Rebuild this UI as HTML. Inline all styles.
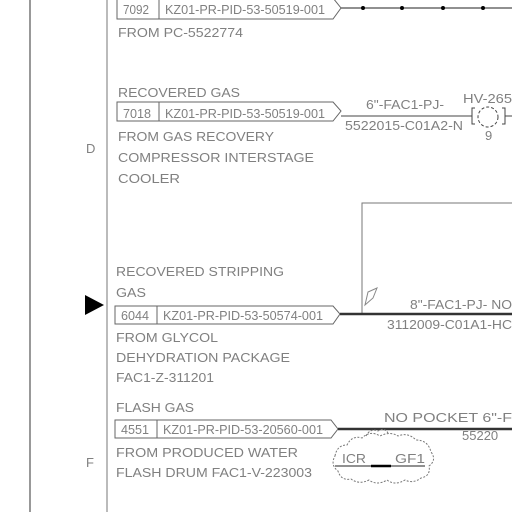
<!DOCTYPE html><html><head><style>body{margin:0;background:#fff}svg{display:block}text{font-family:"Liberation Sans",sans-serif;fill:#808080;font-size:13px}</style></head><body>
<svg width="512" height="512" viewBox="0 0 512 512">
<line x1="30" y1="0" x2="30" y2="512" stroke="#555" stroke-width="1.2"/>
<line x1="107" y1="0" x2="107" y2="512" stroke="#bbb" stroke-width="2"/>
<text x="86" y="153" font-size="13">D</text>
<text x="86" y="467" font-size="13">F</text>
<polygon points="85,295 104,305 85,315" fill="#000"/>
<g fill="none" stroke="#666" stroke-width="1">
<polygon points="117,-2 333,-2 341,8 333,19 117,19"/><line x1="159" y1="-2" x2="159" y2="19"/>
<polygon points="117,102 333,102 341,111 333,121 117,121"/><line x1="159" y1="102" x2="159" y2="121"/>
<polygon points="115,306 333,306 340,314 333,324 115,324"/><line x1="157" y1="306" x2="157" y2="324"/>
<polygon points="115,420 331,420 338,429 331,438 115,438"/><line x1="157" y1="420" x2="157" y2="438"/>
</g>
<g font-size="11">
<text x="123" y="14" textLength="26" lengthAdjust="spacingAndGlyphs">7092</text>
<text x="165" y="14" textLength="160" lengthAdjust="spacingAndGlyphs">KZ01-PR-PID-53-50519-001</text>
<text x="123" y="118" textLength="28" lengthAdjust="spacingAndGlyphs">7018</text>
<text x="165" y="118" textLength="160" lengthAdjust="spacingAndGlyphs">KZ01-PR-PID-53-50519-001</text>
<text x="121" y="320" textLength="28" lengthAdjust="spacingAndGlyphs">6044</text>
<text x="163" y="320" textLength="160" lengthAdjust="spacingAndGlyphs">KZ01-PR-PID-53-50574-001</text>
<text x="121" y="434" textLength="28" lengthAdjust="spacingAndGlyphs">4551</text>
<text x="163" y="434" textLength="160" lengthAdjust="spacingAndGlyphs">KZ01-PR-PID-53-20560-001</text>
</g>
<text x="118" y="37" textLength="125" lengthAdjust="spacingAndGlyphs">FROM PC-5522774</text>
<text x="118" y="97" textLength="122" lengthAdjust="spacingAndGlyphs">RECOVERED GAS</text>
<text x="118" y="141" textLength="156" lengthAdjust="spacingAndGlyphs">FROM GAS RECOVERY</text>
<text x="118" y="162" textLength="196" lengthAdjust="spacingAndGlyphs">COMPRESSOR INTERSTAGE</text>
<text x="118" y="183" textLength="62" lengthAdjust="spacingAndGlyphs">COOLER</text>
<text x="116" y="276" textLength="168" lengthAdjust="spacingAndGlyphs">RECOVERED STRIPPING</text>
<text x="116" y="297" textLength="30" lengthAdjust="spacingAndGlyphs">GAS</text>
<text x="116" y="342" textLength="102" lengthAdjust="spacingAndGlyphs">FROM GLYCOL</text>
<text x="116" y="362" textLength="174" lengthAdjust="spacingAndGlyphs">DEHYDRATION PACKAGE</text>
<text x="116" y="382" textLength="98" lengthAdjust="spacingAndGlyphs">FAC1-Z-311201</text>
<text x="116" y="412" textLength="78" lengthAdjust="spacingAndGlyphs">FLASH GAS</text>
<text x="116" y="457" textLength="182" lengthAdjust="spacingAndGlyphs">FROM PRODUCED WATER</text>
<text x="116" y="477" textLength="196" lengthAdjust="spacingAndGlyphs">FLASH DRUM FAC1-V-223003</text>
<line x1="341" y1="8" x2="512" y2="8" stroke="#222"/>
<g fill="#000"><circle cx="363" cy="8" r="2"/><circle cx="402" cy="8" r="2"/><circle cx="443" cy="8" r="2"/><circle cx="483" cy="8" r="2"/></g>
<line x1="341" y1="116" x2="472" y2="116" stroke="#444"/>
<line x1="505" y1="116" x2="512" y2="116" stroke="#444"/>
<text x="366" y="109" textLength="78" lengthAdjust="spacingAndGlyphs">6"-FAC1-PJ-</text>
<text x="345" y="130" font-size="11" textLength="118" lengthAdjust="spacingAndGlyphs">5522015-C01A2-N</text>
<text x="463" y="103" textLength="49" lengthAdjust="spacingAndGlyphs">HV-265</text>
<text x="485" y="140" font-size="10">9</text>
<g fill="none" stroke="#444"><path d="M475,108 h-3 v16 h3"/><path d="M502,108 h3 v16 h-3"/><circle cx="488" cy="117" r="10" stroke-dasharray="3,2"/></g>
<path d="M362,314 V203 H512" fill="none" stroke="#777"/>
<line x1="340" y1="314" x2="512" y2="314" stroke="#333" stroke-width="2.5"/>
<path d="M365,305 L368,292 L377,288 L373,298 Z" fill="none" stroke="#888"/>
<text x="410" y="309" textLength="102" lengthAdjust="spacingAndGlyphs">8"-FAC1-PJ- NO</text>
<text x="387" y="329" textLength="125" lengthAdjust="spacingAndGlyphs">3112009-C01A1-HC</text>
<line x1="338" y1="429" x2="512" y2="429" stroke="#333" stroke-width="2.5"/>
<text x="384" y="422" textLength="128" lengthAdjust="spacingAndGlyphs">NO POCKET   6"-F</text>
<text x="462" y="440" font-size="11" fill="#aaa">55220</text>
<path d="M335,456 q2,-11 12,-11 q5,-10 15,-7 q8,-8 18,-2 q10,-5 18,0 q10,-4 18,4 q12,0 15,12 q6,8 -2,14 q2,10 -8,12 q-8,6 -16,2 q-10,6 -18,0 q-10,6 -18,0 q-10,5 -18,-1 q-10,2 -13,-8 q-8,-6 -3,-15 z" fill="none" stroke="#777" stroke-dasharray="2,1.5"/>
<path d="M366,436 q4,-8 12,-5 q6,-4 10,2" fill="none" stroke="#777" stroke-dasharray="2,1.5"/>
<text x="342" y="463" textLength="24" lengthAdjust="spacingAndGlyphs">ICR</text>
<text x="395" y="463" textLength="30" lengthAdjust="spacingAndGlyphs">GF1</text>
<line x1="335" y1="466" x2="425" y2="466" stroke="#222"/>
<line x1="371" y1="466" x2="391" y2="466" stroke="#000" stroke-width="2.5"/>
</svg></body></html>
